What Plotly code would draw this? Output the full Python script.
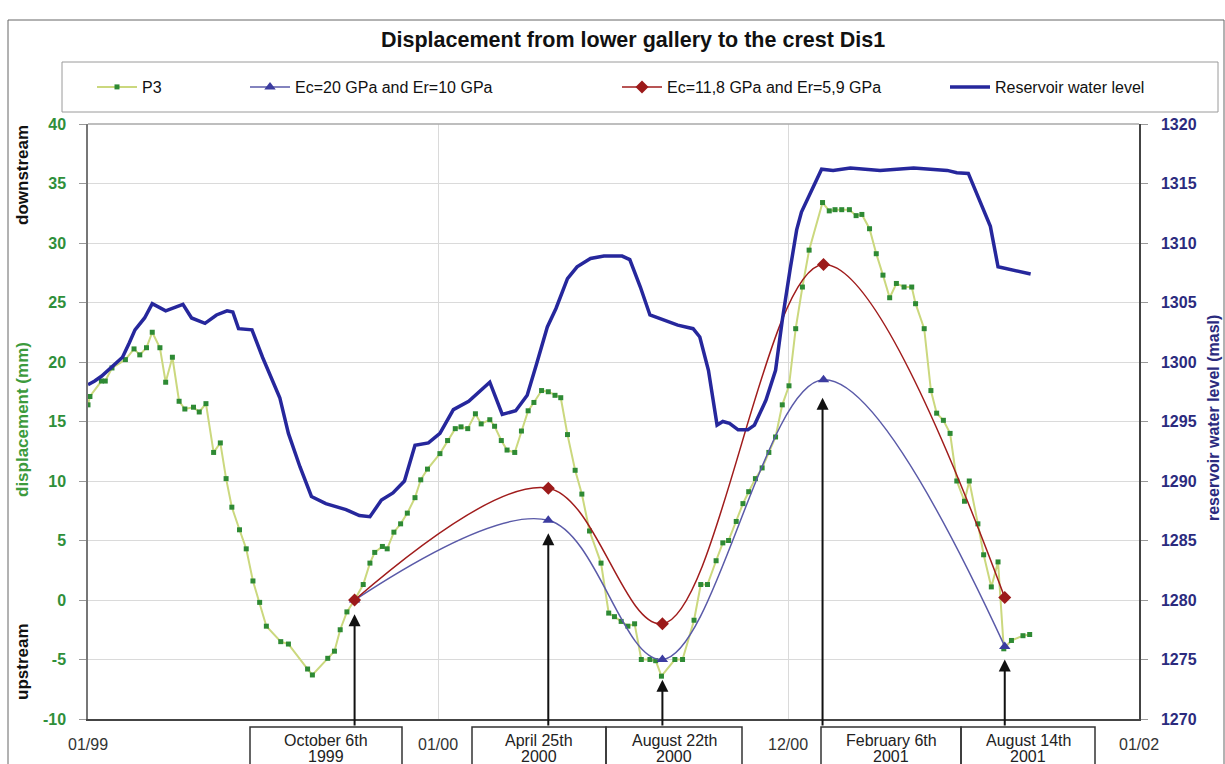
import plotly.graph_objects as go

# ---------------------------------------------------------------- data
p3_dates = [
    "1999-01-01", "1999-01-03", "1999-01-15", "1999-01-19", "1999-01-26", "1999-02-09",
    "1999-02-18", "1999-02-24", "1999-03-03", "1999-03-09", "1999-03-17", "1999-03-23",
    "1999-03-30", "1999-04-06", "1999-04-12", "1999-04-21", "1999-04-27", "1999-05-04",
    "1999-05-12", "1999-05-19", "1999-05-25", "1999-05-31", "1999-06-08", "1999-06-15",
    "1999-06-22", "1999-06-29", "1999-07-06", "1999-07-21", "1999-07-29", "1999-08-18",
    "1999-08-23", "1999-09-08", "1999-09-15", "1999-09-21", "1999-09-28", "1999-10-06",
    "1999-10-15", "1999-10-22", "1999-10-27", "1999-11-04", "1999-11-09", "1999-11-16",
    "1999-11-23", "1999-11-30", "1999-12-08", "1999-12-14", "1999-12-21", "2000-01-03",
    "2000-01-11", "2000-01-19", "2000-01-25", "2000-02-01", "2000-02-09", "2000-02-15",
    "2000-02-24", "2000-02-29", "2000-03-07", "2000-03-13", "2000-03-21", "2000-03-28",
    "2000-04-04", "2000-04-10", "2000-04-18", "2000-04-25", "2000-05-02", "2000-05-08",
    "2000-05-15", "2000-05-23", "2000-05-30", "2000-06-07", "2000-06-19", "2000-06-27",
    "2000-07-03", "2000-07-10", "2000-07-17", "2000-07-24", "2000-07-31", "2000-08-09",
    "2000-08-15", "2000-08-21", "2000-09-04", "2000-09-12", "2000-09-24", "2000-10-01",
    "2000-10-08", "2000-10-17", "2000-10-24", "2000-10-30", "2000-11-07", "2000-11-14",
    "2000-11-20", "2000-11-27", "2000-12-04", "2000-12-11", "2000-12-18", "2000-12-25",
    "2001-01-01", "2001-01-08", "2001-01-15", "2001-01-22", "2001-02-05", "2001-02-12",
    "2001-02-18", "2001-02-25", "2001-03-05", "2001-03-12", "2001-03-18", "2001-03-26",
    "2001-04-02", "2001-04-09", "2001-04-16", "2001-04-23", "2001-05-01", "2001-05-09",
    "2001-05-13", "2001-05-22", "2001-05-29", "2001-06-04", "2001-06-11", "2001-06-18",
    "2001-06-25", "2001-07-03", "2001-07-08", "2001-07-17", "2001-07-23", "2001-07-31",
    "2001-08-07", "2001-08-13", "2001-08-21", "2001-09-02", "2001-09-09",
]
p3_mm = [
    16.4, 17.1, 18.4, 18.4, 19.5, 20.2,
    21.1, 20.6, 21.2, 22.5, 21.2, 18.3,
    20.4, 16.7, 16.05, 16.2, 15.8, 16.5,
    12.4, 13.2, 10.2, 7.8, 5.9, 4.3,
    1.6, -0.2, -2.2, -3.5, -3.7, -5.8,
    -6.3, -4.9, -4.3, -2.5, -1.0, 0.0,
    1.3, 3.1, 4.0, 4.5, 4.3, 5.7,
    6.4, 7.3, 8.6, 10.1, 11.0, 12.3,
    13.4, 14.4, 14.55, 14.4, 15.65, 14.8,
    15.15, 14.6, 13.4, 12.6, 12.4, 14.2,
    15.9, 16.6, 17.6, 17.5, 17.2, 17.0,
    13.9, 10.9, 8.9, 5.8, 3.1, -1.1,
    -1.4, -1.8, -2.2, -2.0, -5.0, -5.0,
    -5.1, -6.4, -5.0, -5.0, -1.7, 1.3,
    1.3, 3.3, 4.8, 5.0, 6.6, 8.1,
    9.1, 10.2, 11.1, 12.4, 13.7, 16.4,
    18.0, 22.8, 26.3, 29.4, 33.4, 32.7,
    32.8, 32.8, 32.8, 32.3, 32.4, 31.2,
    29.1, 27.3, 25.4, 26.6, 26.3, 26.3,
    24.9, 22.8, 17.6, 15.7, 15.1, 14.0,
    10.0, 8.3, 10.0, 6.4, 3.8, 1.1,
    3.2, -4.1, -3.4, -3.0, -2.9,
]

model_dates = ["1999-10-06", "2000-04-25", "2000-08-22", "2001-02-06", "2001-08-14"]
ec20_mm = [0.0, 6.7, -5.0, 18.5, -3.9]
ec118_mm = [0.0, 9.4, -2.0, 28.2, 0.2]

level_dates = [
    "1999-01-01", "1999-01-08", "1999-01-15", "1999-01-26", "1999-02-06", "1999-02-13",
    "1999-02-19", "1999-03-01", "1999-03-09", "1999-03-23", "1999-04-10", "1999-04-19",
    "1999-05-03", "1999-05-15", "1999-05-26", "1999-06-01", "1999-06-07", "1999-06-21",
    "1999-07-02", "1999-07-20", "1999-07-29", "1999-08-10", "1999-08-22", "1999-09-06",
    "1999-09-27", "1999-10-11", "1999-10-22", "1999-11-03", "1999-11-15", "1999-11-27",
    "1999-12-08", "1999-12-22", "2000-01-03", "2000-01-17", "2000-02-02", "2000-02-24",
    "2000-03-08", "2000-03-22", "2000-04-03", "2000-04-13", "2000-04-24", "2000-05-03",
    "2000-05-15", "2000-05-25", "2000-06-08", "2000-06-22", "2000-07-11", "2000-07-19",
    "2000-07-30", "2000-08-09", "2000-08-22", "2000-09-07", "2000-09-23", "2000-09-30",
    "2000-10-09", "2000-10-18", "2000-10-24", "2000-10-31", "2000-11-09", "2000-11-19",
    "2000-11-26", "2000-12-08", "2000-12-18", "2000-12-25", "2001-01-02", "2001-01-09",
    "2001-01-14", "2001-01-23", "2001-02-04", "2001-02-16", "2001-03-06", "2001-04-06",
    "2001-05-11", "2001-06-15", "2001-06-25", "2001-07-07", "2001-07-19", "2001-07-30",
    "2001-08-07", "2001-08-23", "2001-09-10",
]
level_masl = [
    1298.1, 1298.4, 1298.8, 1299.6, 1300.4, 1301.6,
    1302.7, 1303.7, 1304.9, 1304.3, 1304.85, 1303.7,
    1303.25, 1303.95, 1304.3, 1304.2, 1302.8, 1302.7,
    1300.4, 1297.0, 1294.0, 1291.2, 1288.7, 1288.1,
    1287.6, 1287.1, 1287.0, 1288.4, 1289.0, 1290.0,
    1293.0, 1293.2, 1294.0, 1296.0, 1296.7, 1298.3,
    1295.6, 1295.9, 1297.2, 1299.9, 1302.95, 1304.5,
    1307.0, 1308.0, 1308.7, 1308.9, 1308.9, 1308.6,
    1306.3, 1303.95, 1303.6, 1303.1, 1302.8, 1302.1,
    1299.3, 1294.7, 1295.0, 1294.85, 1294.3, 1294.3,
    1294.7, 1296.8, 1299.3, 1303.5, 1307.7, 1311.1,
    1312.6, 1314.2, 1316.2, 1316.1, 1316.3, 1316.1,
    1316.3, 1316.1, 1315.9, 1315.85, 1313.6, 1311.4,
    1308.0, 1307.7, 1307.4,
]

x_tick_dates = ["1999-01-01", "2000-01-01", "2000-12-31", "2002-01-01"]
x_tick_labels = ["01/99", "01/00", "12/00", "01/02"]

mm_ticks = [-10, -5, 0, 5, 10, 15, 20, 25, 30, 35, 40]
mm_tick_labels = ["-10", "-5", "0", "5", "10", "15", "20", "25", "30", "35", "40"]

# measurement dates called out under the axis, with the displacement
# value where each arrow stops
event_day = ["October 6th", "April 25th", "August 22th", "February 6th", "August 14th"]
event_year = ["1999", "2000", "2000", "2001", "2001"]
event_dates = ["1999-10-06", "2000-04-25", "2000-08-22", "2001-02-05", "2001-08-14"]
arrow_tip_mm = [-1.2, 5.6, -6.7, 17.0, -5.0]

# ---------------------------------------------------------------- geometry
W, H = 1225, 764
ML, MR, MT, MB = 88, 86, 124, 45
PW = W - ML - MR
PH = H - MT - MB


def px(x):
    return (x - ML) / PW


def py(y):
    return (H - MB - y) / PH


FONT = "Liberation Sans, Arial, sans-serif"
GREEN = "#2f8f3a"
NAVY = "#2b2b7e"

fig = go.Figure()

fig.add_trace(go.Scatter(
    x=p3_dates, y=p3_mm, name="P3", mode="lines+markers",
    line=dict(color="#cbd87e", width=2),
    marker=dict(symbol="square", size=5, color="#2e8a34"),
    legend="legend",
))
fig.add_trace(go.Scatter(
    x=model_dates, y=ec20_mm, name="Ec=20 GPa and Er=10 GPa", mode="lines+markers",
    line=dict(color="#5a5aa8", width=1.5, shape="spline", smoothing=1.0),
    marker=dict(symbol="triangle-up", size=10, color="#3c3ca0"),
    legend="legend2",
))
fig.add_trace(go.Scatter(
    x=model_dates, y=ec118_mm, name="Ec=11,8 GPa and Er=5,9 GPa", mode="lines+markers",
    line=dict(color="#a01c1c", width=1.5, shape="spline", smoothing=1.0),
    marker=dict(symbol="diamond", size=10, color="#9c1a1a"),
    legend="legend3",
))
fig.add_trace(go.Scatter(
    x=level_dates, y=level_masl, name="Reservoir water level", mode="lines",
    line=dict(color="#26279c", width=3.5),
    yaxis="y2", legend="legend4",
))

legend_common = dict(orientation="h", xanchor="left", yanchor="middle",
                     bgcolor="rgba(0,0,0,0)", borderwidth=0,
                     font=dict(family=FONT, size=16, color="#111"),
                     itemwidth=40)

fig.update_layout(
    width=W, height=H, autosize=False,
    margin=dict(l=ML, r=MR, t=MT, b=MB),
    paper_bgcolor="white", plot_bgcolor="white",
    font=dict(family=FONT),
    xaxis=dict(
        type="date", range=["1999-01-01", "2002-01-01"],
        tickmode="array", tickvals=x_tick_dates, ticktext=x_tick_labels,
        showgrid=True, gridcolor="#dadada", gridwidth=1,
        showline=True, linecolor="#444", linewidth=1.5, mirror=False,
        ticks="", ticklabelstandoff=10,
        tickfont=dict(family=FONT, size=16, color="#333"),
        zeroline=False,
    ),
    yaxis=dict(
        range=[-10, 40], tickmode="array", tickvals=mm_ticks, ticktext=mm_tick_labels,
        showgrid=True, gridcolor="#dadada", gridwidth=1, zeroline=False,
        showline=True, linecolor="#777", linewidth=1.5, mirror=False,
        ticks="outside", ticklen=7, tickcolor="#999", ticklabelstandoff=10,
        tickfont=dict(family=FONT, size=16, color=GREEN, weight="bold"),
    ),
    yaxis2=dict(
        range=[1270, 1320], tick0=1270, dtick=5, overlaying="y", side="right",
        showgrid=False, zeroline=False,
        showline=True, linecolor="#444", linewidth=1.5,
        ticks="outside", ticklen=7, tickcolor="#999", ticklabelstandoff=10,
        tickfont=dict(family=FONT, size=16, color=NAVY, weight="bold"),
    ),
    legend=dict(x=px(92), y=py(87), **legend_common),
    legend2=dict(x=px(245), y=py(87), **legend_common),
    legend3=dict(x=px(617), y=py(87), **legend_common),
    legend4=dict(x=px(945), y=py(87), **legend_common),
    showlegend=True,
)

shapes = [
    # outer chart frame
    dict(type="rect", xref="paper", yref="paper",
         x0=px(8), x1=px(1224), y0=py(800), y1=py(20),
         line=dict(color="#666", width=1), layer="below"),
    # legend frame
    dict(type="rect", xref="paper", yref="paper",
         x0=px(62), x1=px(1218), y0=py(112), y1=py(62),
         line=dict(color="#9a9a9a", width=1), layer="below"),
    # lighter top edge of the plot frame
    dict(type="line", xref="paper", yref="paper", x0=0, x1=1, y0=1, y1=1,
         line=dict(color="#a8a8a8", width=1.5)),
]

# boxes holding the measurement dates (left / right edges in px)
box_edges = [(250, 402), (472, 606), (606, 742), (821, 961), (961, 1095)]
for bx0, bx1 in box_edges:
    shapes.append(dict(type="rect", xref="paper", yref="paper",
                       x0=px(bx0), x1=px(bx1), y0=py(800), y1=py(727),
                       line=dict(color="#333", width=1.5)))

fig.update_layout(shapes=shapes)

annotations = [
    dict(text="<b>Displacement from lower gallery to the crest Dis1</b>",
         xref="paper", yref="paper", x=px(633), y=py(40),
         showarrow=False, font=dict(family=FONT, size=21.5, color="#111"),
         xanchor="center", yanchor="middle"),
    dict(text="<b>displacement (mm)</b>", xref="paper", yref="paper",
         x=px(22), y=py(420), textangle=-90, showarrow=False,
         font=dict(family=FONT, size=17, color="#3c9a3c"),
         xanchor="center", yanchor="middle"),
    dict(text="<b>downstream</b>", xref="paper", yref="paper",
         x=px(22), y=py(175), textangle=-90, showarrow=False,
         font=dict(family=FONT, size=17, color="#111"),
         xanchor="center", yanchor="middle"),
    dict(text="<b>upstream</b>", xref="paper", yref="paper",
         x=px(22), y=py(662), textangle=-90, showarrow=False,
         font=dict(family=FONT, size=17, color="#111"),
         xanchor="center", yanchor="middle"),
    dict(text="<b>reservoir water level (masl)</b>", xref="paper", yref="paper",
         x=px(1213), y=py(418), textangle=-90, showarrow=False,
         font=dict(family=FONT, size=16, color=NAVY),
         xanchor="center", yanchor="middle"),
]

for (bx0, bx1), day, year in zip(box_edges, event_day, event_year):
    cx = px((bx0 + bx1) / 2)
    annotations.append(dict(
        text=day, xref="paper", yref="paper", x=cx, y=py(740),
        xanchor="center", yanchor="middle", showarrow=False,
        font=dict(family=FONT, size=16, color="#222"),
    ))
    annotations.append(dict(
        text=year, xref="paper", yref="paper", x=cx, y=py(756),
        xanchor="center", yanchor="middle", showarrow=False,
        font=dict(family=FONT, size=16, color="#222"),
    ))

box_top_mm = 40 - (727 - MT) / PH * 50
for d, tip in zip(event_dates, arrow_tip_mm):
    annotations.append(dict(
        x=d, y=tip, xref="x", yref="y", text="",
        showarrow=True, axref="x", ax=d, ayref="y", ay=box_top_mm,
        arrowhead=2, arrowsize=1.2, arrowwidth=2, arrowcolor="#111",
        standoff=0,
    ))

fig.update_layout(annotations=annotations)

fig.write_html("out.html")
